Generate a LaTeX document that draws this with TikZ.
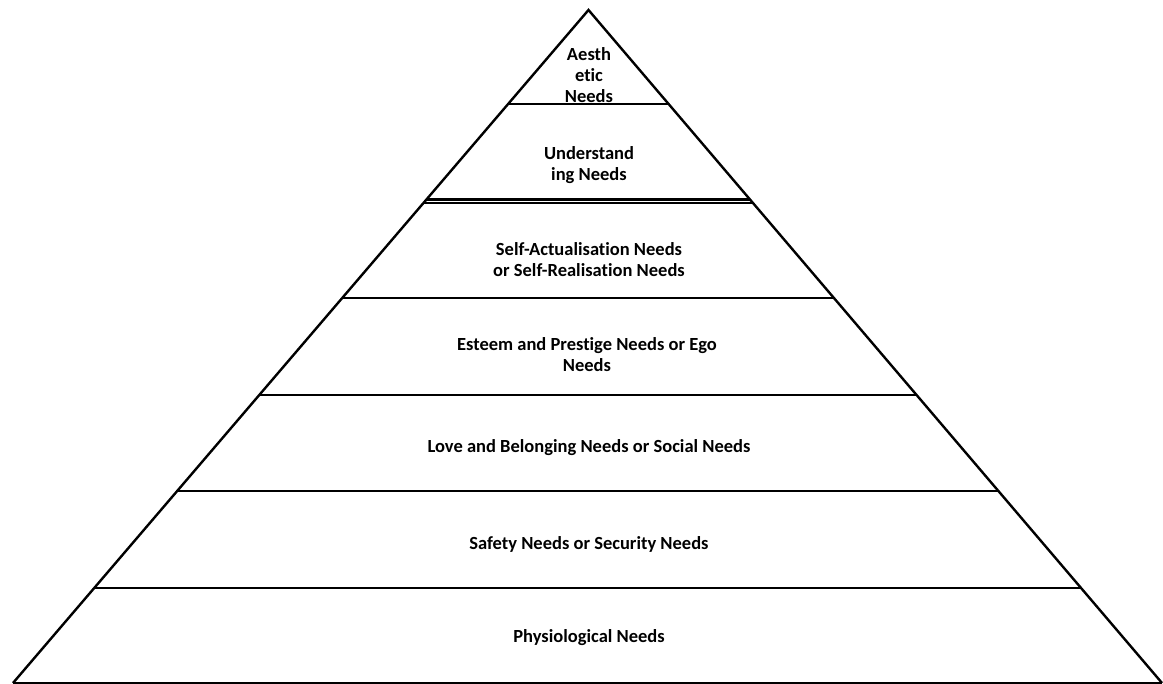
\documentclass[tikz,border=0pt]{standalone}
\usepackage{fontspec}
\setmainfont{Carlito}[Ligatures=NoCommon]
\usetikzlibrary{calc}
\begin{document}
\begin{tikzpicture}[x=1pt,y=-1pt,
  side/.style={line width=2.4pt,line join=miter},
  tier/.style={line width=2.6pt},
  lbl/.style={align=center,font=\fontsize{18.5}{21}\selectfont\bfseries,inner sep=0pt}]
\useasboundingbox (0,0) rectangle (1163,684);
\coordinate (A) at (588.5,10);
\coordinate (L) at (13,683);
\coordinate (R) at (1162,683);
% outline of the pyramid
\draw[side] (L) -- (A) -- (R);
\draw[line width=1.8pt] (L) -- (R);
% tier boundaries
\foreach \t in {0.1397,0.2816,0.2868,0.4279,0.5721,0.7147,0.8588}
  \draw[tier] ($(A)!\t!(L)$) -- ($(A)!\t!(R)$);
% tier labels
\node[lbl] (aes) at (589,75) {Aesth\\etic\\Needs};
\node[lbl] (und) at (589,165.5) {Understand\\ing Needs};
\node[lbl] (self) at (589,259.5) {Self-Actualisation Needs\\or Self-Realisation Needs};
\node[lbl] (est) at (587,354.5) {Esteem and Prestige Needs or Ego\\Needs};
\node[lbl] (love) at (589,448) {Love and Belonging Needs or Social Needs};
\node[lbl] (safe) at (589,544) {Safety Needs or Security Needs};
\node[lbl] (phys) at (589,638) {Physiological Needs};
\end{tikzpicture}
\end{document}
